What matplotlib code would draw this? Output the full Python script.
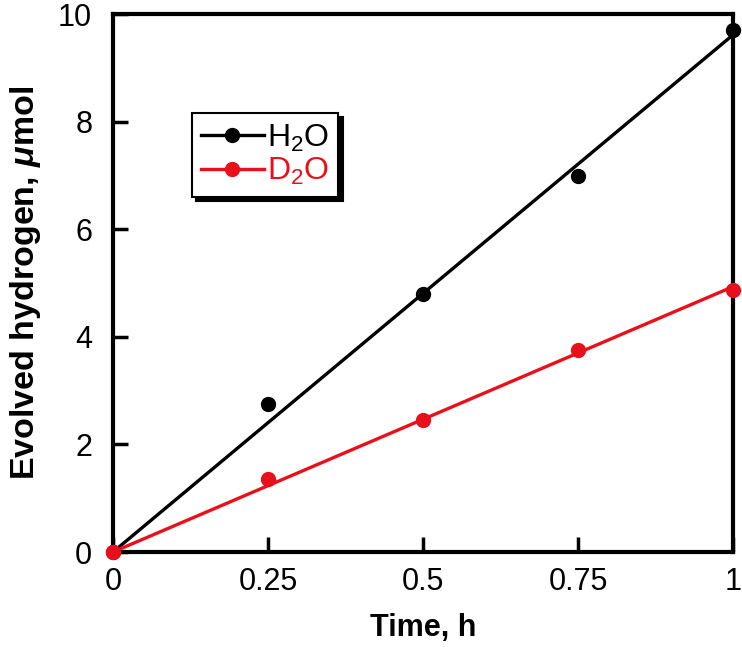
import numpy as np
import matplotlib
matplotlib.use("Agg")
import matplotlib.pyplot as plt

time_h = [0, 0.25, 0.5, 0.75, 1.0]
h2o = [0, 2.75, 4.8, 6.98, 9.7]
d2o = [0, 1.36, 2.45, 3.75, 4.87]
xticks = [0, 0.25, 0.5, 0.75, 1]
xticklabels = ["0", "0.25", "0.5", "0.75", "1"]
yticks = [0, 2, 4, 6, 8, 10]

plt.rcParams['font.family'] = ['Liberation Sans', 'DejaVu Sans']
plt.rcParams['mathtext.fontset'] = 'custom'
plt.rcParams['mathtext.rm'] = 'Liberation Sans'
plt.rcParams['mathtext.it'] = 'Liberation Sans:italic:bold'
plt.rcParams['mathtext.bf'] = 'Liberation Sans:bold'

RED = '#e8101a'

fig = plt.figure(figsize=(7.42, 6.47), dpi=100)
ax = fig.add_axes([113/742, 1-552/647, 620/742, 538/647])

x = np.array(time_h)
fx = np.array([0, 1.0])
for ys, c in [(h2o, 'black'), (d2o, RED)]:
    ys = np.array(ys)
    slope = np.sum(x*ys)/np.sum(x*x)
    ax.plot(fx, slope*fx, color=c, lw=2.4, clip_on=False, zorder=3)
    ax.plot(x, ys, 'o', color=c, ms=10, clip_on=False, zorder=4)
# legend proxies
hl = [ax.plot([], [], '-o', color='black', lw=2.4, ms=10)[0],
      ax.plot([], [], '-o', color=RED, lw=2.4, ms=10)[0]]
leg = ax.legend(hl, ['H$_2$O', 'D$_2$O'], loc='upper left',
                bbox_to_anchor=(0.127, 0.816), borderaxespad=0,
                fancybox=False,
                shadow={'color': 'black', 'alpha': 1, 'ox': 3, 'oy': -3},
                fontsize=23, handlelength=1.95, handletextpad=0.1,
                labelspacing=0.08, borderpad=0.3, framealpha=1)
leg.get_frame().set_edgecolor('black')
leg.get_frame().set_linewidth(1.5)
for t, c in zip(leg.get_texts(), ['black', RED]):
    t.set_color(c)

ax.set_xlim(0, 1)
ax.set_ylim(0, 10)
ax.set_xticks(xticks)
ax.set_xticklabels(xticklabels)
ax.set_yticks(yticks)
ax.tick_params(direction='in', length=11, width=2.5, labelsize=22,
               top=False, right=False)
ax.tick_params(axis='x', pad=11)
ax.tick_params(axis='y', pad=15)
for s in ax.spines.values():
    s.set_linewidth(3)

ax.set_xlabel('Time, h', fontsize=22, fontweight='bold', labelpad=11)
ax.set_ylabel(r'Evolved hydrogen, $\mu$mol', fontsize=24.5, fontweight='bold', labelpad=11)

fig.savefig('out.png', dpi=100)
